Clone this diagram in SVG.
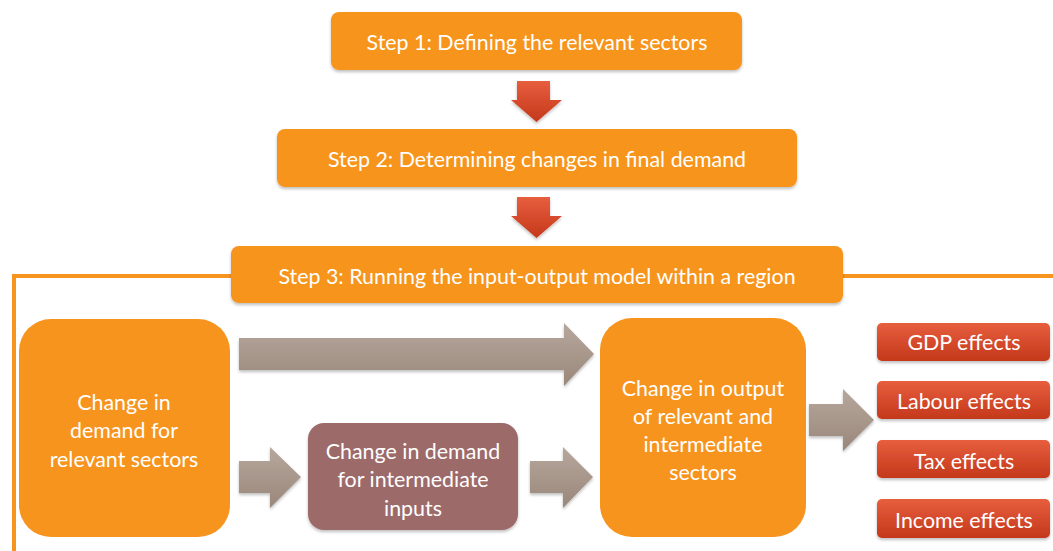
<svg xmlns="http://www.w3.org/2000/svg" width="1053" height="551" viewBox="0 0 1053 551">
<defs>
<linearGradient id="gRed" x1="0" y1="0" x2="0" y2="1"><stop offset="0" stop-color="#e75e3e"/><stop offset="1" stop-color="#c4381b"/></linearGradient>
<linearGradient id="gGrey" x1="0" y1="0" x2="0" y2="1"><stop offset="0" stop-color="#b6a79c"/><stop offset="1" stop-color="#9a877b"/></linearGradient>
<filter id="sh" x="-10%" y="-10%" width="120%" height="130%"><feDropShadow dx="0" dy="2" stdDeviation="1.5" flood-color="#000" flood-opacity="0.25"/></filter>
<style>
text{font-family:"Lato","Open Sans","DejaVu Sans",sans-serif;fill:#fff;text-anchor:middle;dominant-baseline:central;font-size:21.4px}
.o{fill:#f7941d}
.m{fill:#9d6a6a}
.r{fill:url(#gRed)}
.g{fill:url(#gGrey)}
</style>
</defs>
<g id="connectors">
<polyline points="14,551 14,276 1053,276" fill="none" stroke="#f7941d" stroke-width="4"/>
<path class="r" d="M517,81 H550 V100 H562 L536.5,122 L511,100 H517 Z" filter="url(#sh)"/>
<path class="r" d="M517,197 H550 V216 H562 L536.5,238 L511,216 H517 Z" filter="url(#sh)"/>
<path class="g" d="M239,338 H564 V323 L594,354 L564,386 V370 H239 Z" filter="url(#sh)"/>
<path class="g" d="M239,461 H270 V447 L301,477 L270,508 V493 H239 Z" filter="url(#sh)"/>
<path class="g" d="M530,461 H563 V447 L593,477 L563,508 V493 H530 Z" filter="url(#sh)"/>
<path class="g" d="M809,404 H843 V389 L874,420 L843,451 V436 H809 Z" filter="url(#sh)"/>
</g>
<g id="step1"><rect class="o" x="331" y="12" width="411" height="58" rx="8" filter="url(#sh)"/><text x="537" y="42">Step 1: Defining the relevant sectors</text></g>
<g id="step2"><rect class="o" x="277" y="129" width="520" height="58" rx="8" filter="url(#sh)"/><text x="537" y="159">Step 2: Determining changes in final demand</text></g>
<g id="step3"><rect class="o" x="231" y="246" width="612" height="57" rx="8" filter="url(#sh)"/><text x="537" y="276">Step 3: Running the input-output model within a region</text></g>
<g id="demand"><rect class="o" x="19" y="319" width="211" height="218" rx="32"/><text x="124" y="402">Change in</text><text x="124" y="430">demand for</text><text x="124" y="459">relevant sectors</text></g>
<g id="intermediate"><rect class="m" x="308" y="423" width="210" height="107" rx="16" filter="url(#sh)"/><text x="413" y="451">Change in demand</text><text x="413" y="479">for intermediate</text><text x="413" y="508">inputs</text></g>
<g id="output"><rect class="o" x="600" y="318" width="206" height="219" rx="32"/><text x="703" y="388">Change in output</text><text x="703" y="416">of relevant and</text><text x="703" y="444">intermediate</text><text x="703" y="472">sectors</text></g>
<g id="gdp"><rect class="r" x="877" y="323" width="173" height="38" rx="5" filter="url(#sh)"/><text x="964" y="342">GDP effects</text></g>
<g id="labour"><rect class="r" x="877" y="381" width="173" height="38" rx="5" filter="url(#sh)"/><text x="964" y="401">Labour effects</text></g>
<g id="tax"><rect class="r" x="877" y="440" width="173" height="38" rx="5" filter="url(#sh)"/><text x="964" y="461">Tax effects</text></g>
<g id="income"><rect class="r" x="877" y="499" width="173" height="39" rx="5" filter="url(#sh)"/><text x="964" y="520">Income effects</text></g>
</svg>
